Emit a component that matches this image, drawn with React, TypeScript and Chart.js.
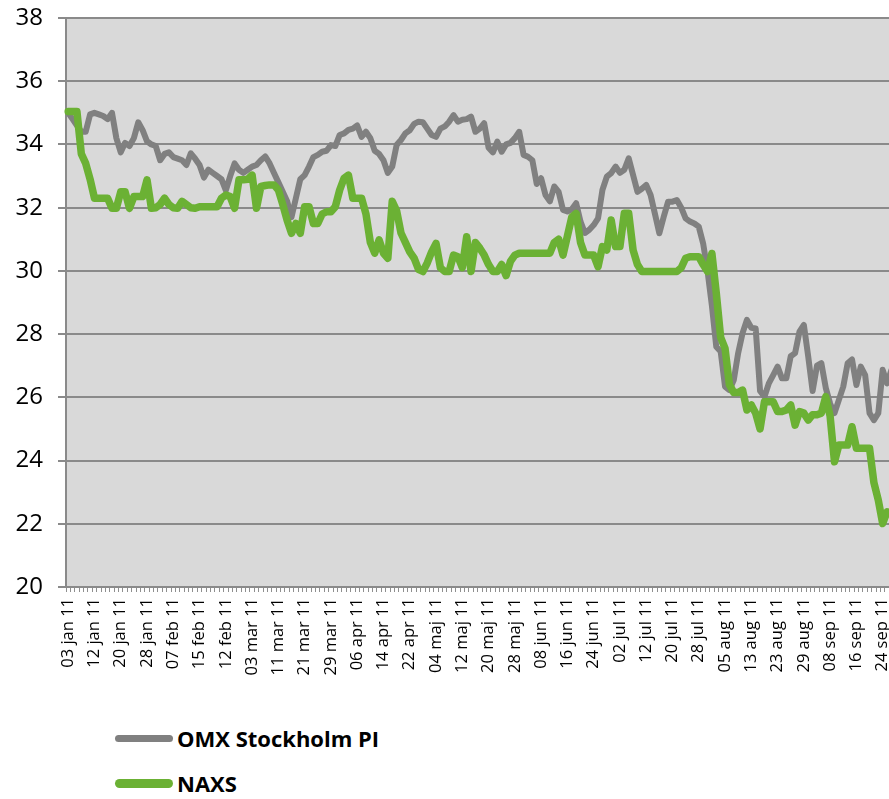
import React, { useEffect, useRef } from "react";
import { Chart, registerables } from "chart.js";

Chart.register(...registerables);

const tickLabels = [
  "03 jan 11", "12 jan 11", "20 jan 11", "28 jan 11", "07 feb 11", "15 feb 11",
  "12 feb 11", "03 mar 11", "11 mar 11", "21 mar 11", "29 mar 11", "06 apr 11",
  "14 apr 11", "22 apr 11", "04 maj 11", "12 maj 11", "20 maj 11", "28 maj 11",
  "08 jun 11", "16 jun 11", "24 jun 11", "02 jul 11", "12 jul 11", "20 jul 11",
  "28 jul 11", "05 aug 11", "13 aug 11", "23 aug 11", "29 aug 11", "08 sep 11",
  "16 sep 11", "24 sep 11",
];

const omxValues = [
  35.0, 34.8, 34.6, 34.4, 34.4, 34.95, 35.0, 34.95, 34.9, 34.8,
  35.0, 34.2, 33.75, 34.05, 33.95, 34.2, 34.7, 34.45, 34.1, 34.0,
  33.95, 33.5, 33.7, 33.75, 33.6, 33.55, 33.5, 33.35, 33.72, 33.55,
  33.35, 32.95, 33.2, 33.1, 33.0, 32.9, 32.55, 33.0, 33.4, 33.2,
  33.1, 33.2, 33.3, 33.35, 33.5, 33.62, 33.4, 33.1, 32.8, 32.5,
  32.2, 31.7, 32.3, 32.9, 33.03, 33.3, 33.6, 33.67, 33.77, 33.8,
  33.98, 33.95, 34.3, 34.35, 34.46, 34.5, 34.6, 34.24, 34.4, 34.2,
  33.8, 33.7, 33.5, 33.1, 33.3, 33.98, 34.14, 34.35, 34.45, 34.65,
  34.72, 34.7, 34.5, 34.3, 34.24, 34.5, 34.57, 34.72, 34.93, 34.72,
  34.78, 34.8, 34.88, 34.4, 34.5, 34.67, 33.9, 33.75, 34.09, 33.77,
  34.0, 34.05, 34.2, 34.4, 33.67, 33.61, 33.5, 32.75, 32.93, 32.4,
  32.2, 32.67, 32.5, 31.93, 31.88, 31.95, 32.14, 31.56, 31.2, 31.3,
  31.45, 31.66, 32.56, 32.98, 33.09, 33.3, 33.1, 33.2, 33.56, 33.03,
  32.5, 32.6, 32.72, 32.4, 31.8, 31.19, 31.71, 32.19, 32.19, 32.24,
  32.0, 31.66, 31.56, 31.5, 31.4, 30.87, 30.0, 28.9, 27.6, 27.45,
  26.34, 26.23, 26.55, 27.4, 28.03, 28.45, 28.2, 28.18, 26.2, 26.02,
  26.44, 26.7, 26.97, 26.6, 26.6, 27.3, 27.4, 28.08, 28.29, 27.29,
  26.2, 27.0, 27.08, 26.3, 25.8, 25.5, 25.92, 26.34, 27.08, 27.2,
  26.39, 26.97, 26.7, 25.5, 25.28, 25.5, 26.87, 26.44, 26.87, 26.8,
];

const naxsValues = [
  35.04, 35.04, 35.04, 33.7, 33.4, 32.9, 32.3, 32.3, 32.3, 32.3,
  31.98, 31.98, 32.5, 32.5, 31.98, 32.35, 32.35, 32.35, 32.88, 31.98,
  32.0, 32.1, 32.3, 32.1, 32.0, 31.98, 32.2, 32.1, 32.0, 31.98,
  32.03, 32.03, 32.03, 32.03, 32.03, 32.3, 32.4, 32.35, 31.98, 32.88,
  32.88, 32.9, 33.03, 31.98, 32.67, 32.7, 32.72, 32.72, 32.56, 32.1,
  31.6, 31.19, 31.5, 31.19, 32.03, 32.03, 31.5, 31.5, 31.8, 31.87,
  31.87, 32.03, 32.56, 32.93, 33.03, 32.3, 32.3, 32.3, 31.8, 30.9,
  30.56, 30.98, 30.56, 30.4, 32.2, 31.9, 31.2, 30.9, 30.6, 30.4,
  30.05, 29.98, 30.25, 30.6, 30.87, 30.1, 29.98, 29.98, 30.5, 30.45,
  30.1, 31.08, 29.98, 30.9, 30.72, 30.5, 30.2, 29.98, 29.98, 30.2,
  29.85, 30.3, 30.5, 30.56, 30.56, 30.56, 30.56, 30.56, 30.56, 30.56,
  30.56, 30.9, 31.0, 30.5, 31.1, 31.7, 31.82, 30.9, 30.5, 30.5,
  30.5, 30.13, 30.77, 30.66, 31.61, 30.77, 30.77, 31.82, 31.82, 30.66,
  30.2, 29.98, 29.98, 29.98, 29.98, 29.98, 29.98, 29.98, 29.98, 29.98,
  30.1, 30.4, 30.45, 30.45, 30.45, 30.2, 29.98, 30.55, 29.3, 27.9,
  27.55, 26.4, 26.15, 26.15, 26.23, 25.6, 25.76, 25.5, 25.0, 25.86,
  25.86, 25.86, 25.55, 25.55, 25.6, 25.76, 25.12, 25.55, 25.5, 25.28,
  25.45, 25.45, 25.5, 26.02, 25.4, 23.96, 24.49, 24.49, 24.49, 25.07,
  24.39, 24.39, 24.39, 24.39, 23.3, 22.75, 22.01, 22.38, 22.3, 22.3,
];

const seriesNames = ["OMX Stockholm PI", "NAXS"];
const seriesColors = ["#808080", "#6BB134"];
const labelEvery = 6;

const FONT = "'Open Sans', 'Noto Sans', sans-serif";
const AXIS_GRAY = "#8A8A8A";

const plotBg = {
  id: "plotBg",
  beforeDraw(chart: any) {
    const { ctx, chartArea } = chart;
    if (!chartArea) return;
    ctx.save();
    ctx.fillStyle = "#D9D9D9";
    ctx.fillRect(chartArea.left, chartArea.top, chartArea.right - chartArea.left, chartArea.bottom - chartArea.top);
    ctx.restore();
  },
};

export default function App() {
  const ref = useRef<HTMLCanvasElement | null>(null);

  useEffect(() => {
    if (!ref.current) return;
    const categories = omxValues.map((_, i) => (i % labelEvery === 0 ? tickLabels[i / labelEvery] ?? "" : ""));
    const chart = new Chart(ref.current, {
      type: "line",
      data: {
        labels: categories,
        datasets: [
          {
            label: seriesNames[0],
            data: omxValues,
            borderColor: seriesColors[0],
            backgroundColor: seriesColors[0],
            borderWidth: 6,
            pointRadius: 0,
            tension: 0,
            borderJoinStyle: "round",
            borderCapStyle: "round",
            order: 1,
          },
          {
            label: seriesNames[1],
            data: naxsValues,
            borderColor: seriesColors[1],
            backgroundColor: seriesColors[1],
            borderWidth: 7.5,
            pointRadius: 0,
            tension: 0,
            borderJoinStyle: "round",
            borderCapStyle: "round",
            order: 0,
          },
        ],
      },
      options: {
        animation: false,
        responsive: false,
        devicePixelRatio: 1,
        layout: { padding: { top: 18, left: 0, right: 0, bottom: 0 } },
        plugins: {
          legend: { display: false },
          tooltip: { enabled: false },
        },
        scales: {
          x: {
            type: "category",
            offset: true,
            grid: {
              display: true,
              offset: true,
              drawOnChartArea: false,
              drawTicks: true,
              tickLength: 5,
              tickColor: "#8F8F8F",
              lineWidth: 1,
            },
            border: { display: true, color: AXIS_GRAY, width: 2 },
            ticks: {
              autoSkip: false,
              minRotation: 90,
              maxRotation: 90,
              padding: 6,
              color: "#000",
              font: { family: FONT, size: 16.5 },
            },
            afterFit(scale: any) {
              scale.height = 113;
              scale.paddingLeft = 0;
              scale.paddingRight = 0;
            },
          },
          y: {
            min: 20,
            max: 38,
            ticks: {
              stepSize: 2,
              padding: 15,
              color: "#000",
              font: { family: FONT, size: 24 },
            },
            grid: {
              color: AXIS_GRAY,
              lineWidth: 2,
              drawTicks: true,
              tickLength: 8,
            },
            border: { display: true, color: AXIS_GRAY, width: 2 },
            afterFit(scale: any) {
              scale.width = 66;
              scale.paddingTop = 0;
              scale.paddingBottom = 0;
            },
          },
        },
      },
      plugins: [plotBg],
    });
    return () => chart.destroy();
  }, []);

  const legendItem = (i: number, top: number, thick: number) => (
    <div
      key={i}
      style={{ position: "absolute", left: 115, top: top - 15, height: 30, display: "flex", alignItems: "center" }}
    >
      <div
        style={{
          width: 58,
          height: thick,
          borderRadius: thick / 2,
          background: seriesColors[i],
        }}
      />
      <span
        style={{
          marginLeft: 4,
          fontFamily: FONT,
          fontWeight: 700,
          fontSize: 22,
          color: "#000",
          lineHeight: "30px",
          whiteSpace: "nowrap",
        }}
      >
        {seriesNames[i]}
      </span>
    </div>
  );

  return (
    <div
      style={{
        position: "fixed",
        left: 0,
        top: 0,
        width: 889,
        height: 799,
        overflow: "hidden",
        background: "#fff",
      }}
    >
      <canvas ref={ref} width={898} height={700} style={{ position: "absolute", left: 0, top: 0 }} />
      {legendItem(0, 738, 7)}
      {legendItem(1, 783, 9)}
    </div>
  );
}
